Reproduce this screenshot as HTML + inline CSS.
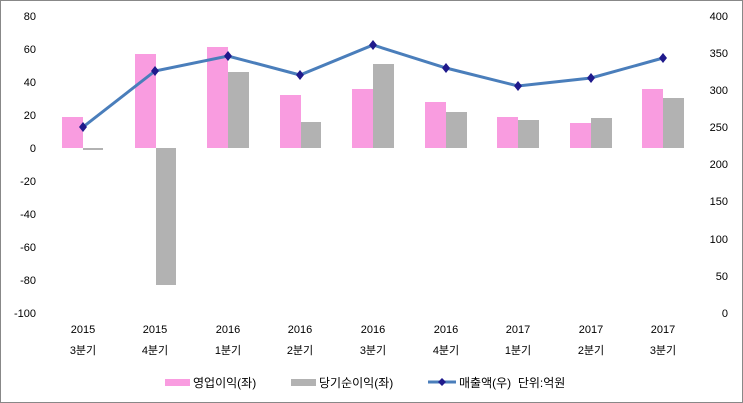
<!DOCTYPE html>
<html><head><meta charset="utf-8"><style>
body{margin:0;background:#fff}
svg{display:block;font-family:"Liberation Sans","Noto Sans CJK KR",sans-serif}
</style></head><body>
<svg width="743" height="403" viewBox="0 0 743 403">
<rect x="0.5" y="0.5" width="742" height="402" fill="#fff" stroke="#888"/>
<g font-size="11" fill="#000" text-anchor="end">
<text x="36" y="20">80</text><text x="36" y="53">60</text><text x="36" y="86">40</text><text x="36" y="119">20</text><text x="36" y="152">0</text>
<text x="36" y="185">-20</text><text x="36" y="218">-40</text><text x="36" y="251">-60</text><text x="36" y="284">-80</text><text x="36" y="317">-100</text>
</g>
<g font-size="11" fill="#000" text-anchor="end">
<text x="728" y="20">400</text><text x="728" y="57">350</text><text x="728" y="94">300</text><text x="728" y="131">250</text><text x="728" y="168">200</text>
<text x="728" y="205">150</text><text x="728" y="243">100</text><text x="728" y="280">50</text><text x="728" y="317">0</text>
</g>
<g id="bars">
<rect x="62" y="117" width="21" height="31" fill="#F99CE0"/><rect x="83" y="148" width="20" height="2" fill="#B2B2B2"/>
<rect x="135" y="54" width="21" height="94" fill="#F99CE0"/><rect x="156" y="148" width="20" height="137" fill="#B2B2B2"/>
<rect x="207" y="47" width="21" height="101" fill="#F99CE0"/><rect x="228" y="72" width="21" height="76" fill="#B2B2B2"/>
<rect x="280" y="95" width="21" height="53" fill="#F99CE0"/><rect x="301" y="122" width="20" height="26" fill="#B2B2B2"/>
<rect x="352" y="89" width="21" height="59" fill="#F99CE0"/><rect x="373" y="64" width="21" height="84" fill="#B2B2B2"/>
<rect x="425" y="102" width="21" height="46" fill="#F99CE0"/><rect x="446" y="112" width="21" height="36" fill="#B2B2B2"/>
<rect x="497" y="117" width="21" height="31" fill="#F99CE0"/><rect x="518" y="120" width="21" height="28" fill="#B2B2B2"/>
<rect x="570" y="123" width="21" height="25" fill="#F99CE0"/><rect x="591" y="118" width="21" height="30" fill="#B2B2B2"/>
<rect x="642" y="89" width="21" height="59" fill="#F99CE0"/><rect x="663" y="98" width="21" height="50" fill="#B2B2B2"/>
</g>
<polyline points="83,127 155,71 228,56 300,75 373,45 446,68 518,86 591,78 663,58" fill="none" stroke="#4A7EBB" stroke-width="3"/>
<g fill="#1F1A8C">
<path d="M83,122l4,5-4,5-4-5z"/><path d="M155,66l4,5-4,5-4-5z"/><path d="M228,51l4,5-4,5-4-5z"/><path d="M300,70l4,5-4,5-4-5z"/><path d="M373,40l4,5-4,5-4-5z"/><path d="M446,63l4,5-4,5-4-5z"/><path d="M518,81l4,5-4,5-4-5z"/><path d="M591,73l4,5-4,5-4-5z"/><path d="M663,53l4,5-4,5-4-5z"/>
</g>
<g font-size="11" fill="#000" text-anchor="middle">
<text x="83" y="333">2015</text><text x="83" y="354">3분기</text>
<text x="155" y="333">2015</text><text x="155" y="354">4분기</text>
<text x="228" y="333">2016</text><text x="228" y="354">1분기</text>
<text x="300" y="333">2016</text><text x="300" y="354">2분기</text>
<text x="373" y="333">2016</text><text x="373" y="354">3분기</text>
<text x="446" y="333">2016</text><text x="446" y="354">4분기</text>
<text x="518" y="333">2017</text><text x="518" y="354">1분기</text>
<text x="591" y="333">2017</text><text x="591" y="354">2분기</text>
<text x="663" y="333">2017</text><text x="663" y="354">3분기</text>
</g>
<g font-size="12" fill="#000">
<rect x="165" y="379" width="25" height="7" fill="#F99CE0"/><text x="193" y="387">영업이익(좌)</text>
<rect x="291" y="379" width="25" height="7" fill="#B2B2B2"/><text x="319" y="387">당기순이익(좌)</text>
<line x1="428" y1="382" x2="456" y2="382" stroke="#4A7EBB" stroke-width="3"/><path d="M442,378l4,4-4,4-4-4z" fill="#1F1A8C"/>
<text x="459" y="387">매출액(우)&#160; 단위:억원</text>
</g>
</svg>
</body></html>
